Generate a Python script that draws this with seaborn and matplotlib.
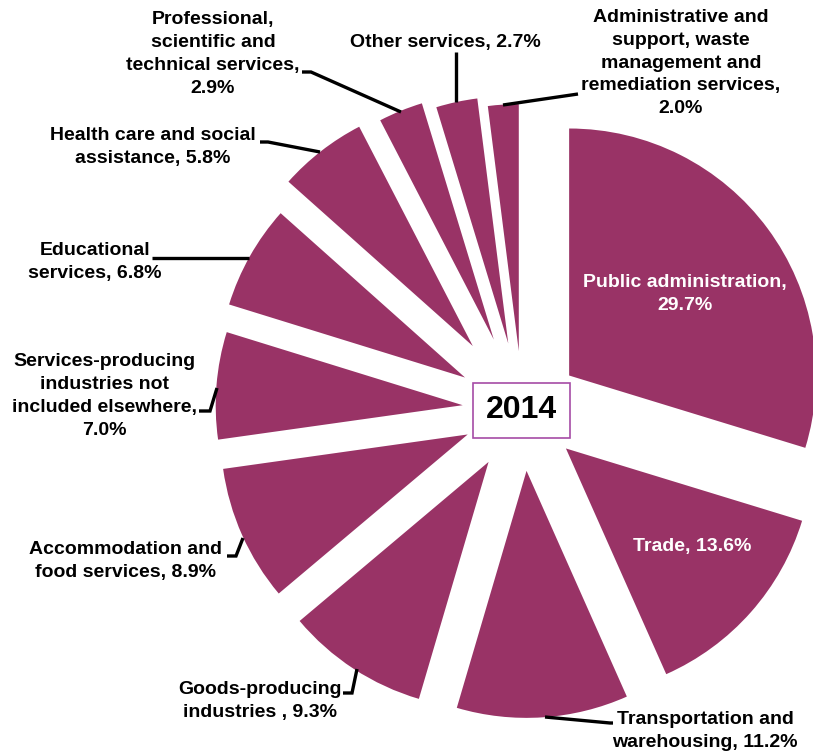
import matplotlib
matplotlib.use("Agg")
import matplotlib.pyplot as plt
import seaborn as sns

# Employment share by industry, 2014
industries = [
    "Public administration",
    "Trade",
    "Transportation and warehousing",
    "Goods-producing industries ",
    "Accommodation and food services",
    "Services-producing industries not included elsewhere",
    "Educational services",
    "Health care and social assistance",
    "Professional, scientific and technical services",
    "Other services",
    "Administrative and support, waste management and remediation services",
]
shares = [29.7, 13.6, 11.2, 9.3, 8.9, 7.0, 6.8, 5.8, 2.9, 2.7, 2.0]
year_label = "2014"

sns.set_theme(style="white")
plt.rcParams["font.family"] = ["Liberation Sans", "DejaVu Sans"]

W, H = 813, 753
fig = plt.figure(figsize=(W / 100, H / 100), dpi=100)
ax = fig.add_axes([0, 0, 1, 1])

PLUM = "#993366"
R = 247
# outward offset of each slice, in pixels
offsets = [58, 58, 61, 62, 60, 60, 66, 81, 76, 68, 59]
cx, cy = 522.5, H - 410

def P(x, y):
    """Convert top-left pixel position to data coordinates."""
    return x, H - y

wedges, _ = ax.pie(
    shares,
    colors=[PLUM] * len(shares),
    startangle=90,
    counterclock=False,
    explode=offsets,
    radius=R,
    center=(cx, cy),
    wedgeprops=dict(linewidth=0),
)

ax.set_xlim(0, W)
ax.set_ylim(0, H)
ax.set_aspect("auto")
ax.axis("off")

fs = 14
ls = 1.46

def label(text, x, y, color="black"):
    ax.text(*P(x, y), text, ha="center", va="center", fontsize=fs,
            fontweight="bold", color=color, linespacing=ls, zorder=5)

def leader(points):
    xs = [p[0] for p in points]
    ys = [H - p[1] for p in points]
    ax.plot(xs, ys, color="black", lw=2.4, solid_capstyle="butt",
            solid_joinstyle="miter", zorder=4)

# Labels inside the two largest slices
label(f"Public administration,\n{shares[0]}%", 685, 294, color="white")
label(f"Trade, {shares[1]}%", 692, 547, color="white")

# Outside labels with leader lines
label(f"Transportation and\nwarehousing, {shares[2]}%", 705, 731)
leader([(545, 717), (610, 723), (613, 723)])

label(f"Goods-producing\nindustries , {shares[3]}%", 260, 701)
leader([(343, 693), (352, 693), (357, 669)])

label(f"Accommodation and\nfood services, {shares[4]}%", 125, 561)
leader([(227, 556), (236, 556), (243, 538)])

label(f"Services-producing\nindustries not\nincluded elsewhere,\n{shares[5]}%", 104, 396)
leader([(199, 411), (210, 411), (217, 388)])

label(f"Educational\nservices, {shares[6]}%", 95, 262)
leader([(152, 258), (249, 258)])

label(f"Health care and social\nassistance, {shares[7]}%", 153, 147)
leader([(260, 142), (268, 142), (320, 152)])

label(f"Professional,\nscientific and\ntechnical services,\n{shares[8]}%", 213, 54)
leader([(302, 72), (311, 72), (401, 112)])

label(f"Other services, {shares[9]}%", 445, 42)
leader([(456, 52), (456, 102)])

label(f"Administrative and\nsupport, waste\nmanagement and\nremediation services,\n{shares[10]}%", 681, 63)
leader([(503, 105), (578, 94)])

# Year box in the middle of the pie
bw, bh = 97, 55
ax.add_patch(plt.Rectangle((cx - 1.5 - bw / 2, cy - bh / 2), bw, bh,
                           facecolor="white", edgecolor="#a64ca6", lw=1.2, zorder=3))
ax.text(cx - 1.5, cy, year_label, ha="center", va="center", fontsize=23,
        fontweight="bold", color="black", zorder=4)

fig.savefig("out.png", dpi=100)
